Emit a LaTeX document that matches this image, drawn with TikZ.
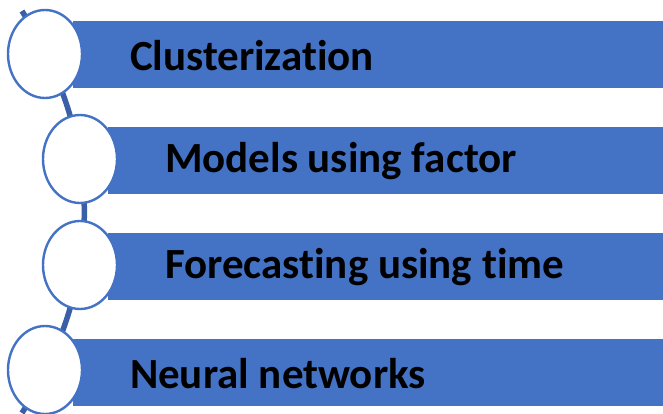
\documentclass[tikz,border=0pt]{standalone}
\usepackage{fontspec}
\setmainfont[Ligatures=NoCommon]{Carlito}
\usetikzlibrary{positioning, shapes.geometric}
\definecolor{cbar}{HTML}{4472C4}
\definecolor{clink}{HTML}{3A5FA6}
\tikzset{
  every picture/.style={line width=2pt},
  bar/.style={fill=cbar, draw=none, minimum height=67pt, inner sep=0pt, anchor=north west},
  ring/.style={ellipse, draw=cbar, fill=white, line width=2.4pt, minimum width=74pt, minimum height=88pt, inner sep=0pt},
  link/.style={draw=clink, line width=5.5pt},
  txt/.style={font=\fontsize{43}{52}\selectfont\bfseries, text=black, anchor=west, inner sep=0pt},
}

\begin{document}
\begin{tikzpicture}[x=1pt, y=-1pt]
  \useasboundingbox (0,0) rectangle (663,414);
  % connector behind the rings
  \coordinate (top) at (22,11);
  \coordinate (bot) at (22,413);
  \draw[link] (top) to[bend left=32] (bot);
  % bars
  \node[bar, minimum width=591pt] (b1) at (72,20) {};
  \node[bar, minimum width=556pt] (b2) at (107,126) {};
  \node[bar, minimum width=556pt] (b3) at (107,232) {};
  \node[bar, minimum width=591pt] (b4) at (72,338) {};
  % rings
  \node[ring] (r1) at (45,54) {};
  \node[ring] (r2) at (80,159) {};
  \node[ring] (r3) at (80,265) {};
  \node[ring] (r4) at (45,370) {};
  % labels
  \node[txt] (t1) at ([xshift=57pt,yshift=-1pt]b1.west) {Clusterization};
  \node[txt] (t2) at ([xshift=57pt,yshift=-1pt]b2.west) {Models using factor};
  \node[txt] (t3) at ([xshift=57pt,yshift=-1pt]b3.west) {Forecasting using time};
  \node[txt] (t4) at ([xshift=57pt,yshift=-1pt]b4.west) {Neural networks};
\end{tikzpicture}
\end{document}
